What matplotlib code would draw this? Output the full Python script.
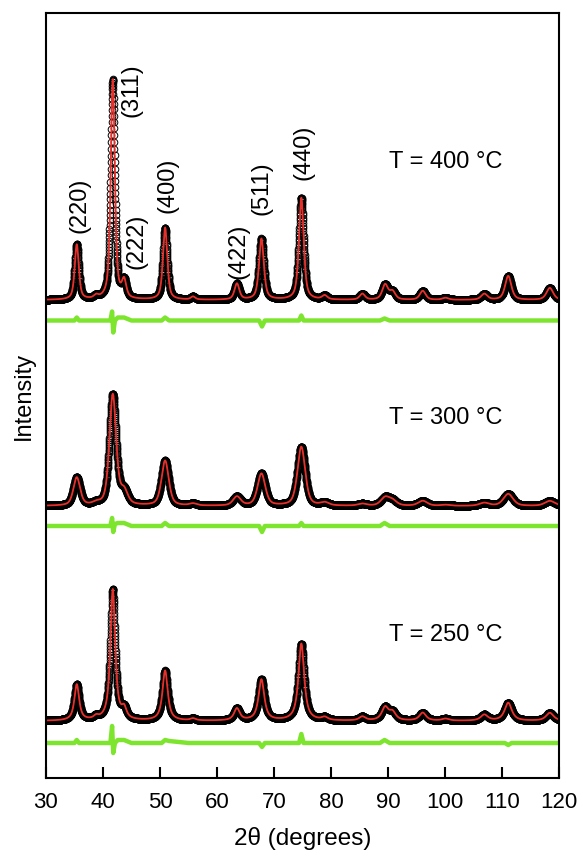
import numpy as np
import matplotlib
matplotlib.use("Agg")
import matplotlib.pyplot as plt

plt.rcParams['font.family'] = ['Liberation Sans', 'DejaVu Sans']

# reflection positions (2theta) and labels
hkl = ['(220)', '(311)', '(222)', '(400)', '(422)', '(511)', '(440)']
peak_pos = [35.4, 38.8, 41.72, 43.7, 50.9, 55.8, 63.5, 67.8, 74.8, 78.9,
            85.5, 89.5, 90.8, 96.1, 100.1, 106.9, 111.1, 118.4]

# peak heights / widths read for each pattern
h_400 = [55, 3, 220, 17, 72, 3, 16, 61, 102, 4, 6, 15, 8, 9, 2, 6, 24, 12]
w_400 = [0.85, 0.9, 0.85, 0.9, 0.9, 0.9, 1.0, 1.0, 1.0, 1.1,
         1.1, 1.2, 1.2, 1.2, 1.3, 1.3, 1.3, 1.4]
h_300 = [28, 2, 111, 13, 45, 2, 9, 32, 59, 3, 2, 8, 5, 5, 1, 3, 12, 5]
w_300 = [1.4, 1.4, 1.4, 1.5, 1.5, 1.5, 1.6, 1.6, 1.6, 1.7,
         1.8, 1.8, 1.8, 1.9, 1.9, 2.0, 2.0, 2.1]
h_250 = [36, 3, 131, 10, 50, 2, 12, 41, 77, 3, 4, 13, 8, 8, 2, 6, 18, 8]
w_250 = [1.0, 1.0, 1.0, 1.0, 1.1, 1.1, 1.2, 1.2, 1.2, 1.3,
         1.3, 1.4, 1.4, 1.4, 1.5, 1.5, 1.5, 1.6]

eta = {'400': 0.6, '300': 0.5, '250': 0.85}
base = {'400': 478, '300': 272, '250': 57}
diff_base = {'400': 457.5, '300': 252, '250': 35}

# difference curve key points
diff_x = [30, 35.0, 35.4, 35.8, 41.3, 41.6, 41.8, 42.1, 42.6, 43.7, 45,
          50.3, 50.9, 51.6, 55, 67.4, 67.9, 68.4, 74.4, 74.8, 75.2,
          88.6, 89.4, 90.3, 110.5, 111.1, 111.7, 120]
d_400 = [0, 0, 3, 0, 0, 9, -12, 0, 3, 3, 0,
         0, 3, 0, 0, 0, -6, 0, 0, 5, 0,
         0, 2, 0, 0, 0, 0, 0]
d_300 = [0, 0, 0, 0, 0, 8, -6, 2, 3, 3, 0,
         0, 3, 0, 0, 0, -6, 0, 0, 3, 0,
         0, 3, 0, 0, 0, 0, 0]
d_250 = [0, 0, 3, 0, 0, 17, -10, 0, 3, 3, 0,
         0, 3, 2, 0, 0, -4, 0, 0, 9, 0,
         0, 3, 0, 0, -2, 0, 0]

two_theta = np.arange(30, 120.001, 0.02)


def profile(x, heights, widths, e):
    y = np.zeros_like(x)
    for c, h, w in zip(peak_pos, heights, widths):
        u = (x - c) / w
        y += h * (e / (1 + 4 * u**2) + (1 - e) * np.exp(-4 * np.log(2) * u**2))
    return y


fig = plt.figure(figsize=(5.82, 8.51), dpi=100)
ax = fig.add_axes([0.079, 0.0858, 0.8814, 0.8989])

sets = [('400', h_400, w_400, d_400),
        ('300', h_300, w_300, d_300),
        ('250', h_250, w_250, d_250)]
for key, hs, ws, ds in sets:
    y = base[key] + profile(two_theta, hs, ws, eta[key])
    ax.plot(two_theta, y, 'o', mfc='none', mec='black', mew=0.7, ms=4.8)
    ax.plot(two_theta, y, color='#e8302a', lw=1.3)
    ax.plot(diff_x, diff_base[key] + np.array(ds), color='#7ee52e', lw=3.2)

lab_x = [35.8, 45.0, 45.8, 51.3, 63.7, 67.8, 75.1]
lab_y = [573, 688, 537, 593, 527, 590, 626]
for t, lx, ly in zip(hkl, lab_x, lab_y):
    ax.text(lx, ly, t, rotation=90, ha='center', va='center', fontsize=17)

ax.text(90.2, 616, 'T = 400 °C', ha='left', va='center', fontsize=17)
ax.text(90.2, 360, 'T = 300 °C', ha='left', va='center', fontsize=17)
ax.text(90.2, 143, 'T = 250 °C', ha='left', va='center', fontsize=17)

ax.set_xlim(30, 120)
ax.set_ylim(0, 765)
ax.set_xticks(np.arange(30, 121, 10))
ax.set_yticks([])
ax.tick_params(axis='x', direction='in', length=8, width=1.5, labelsize=16, pad=10)
for s in ax.spines.values():
    s.set_linewidth(1.5)
ax.set_xlabel('2θ (degrees)', fontsize=17.5, labelpad=10)
ax.set_ylabel('Intensity', fontsize=17, labelpad=8)

fig.savefig('out.png', dpi=100)
